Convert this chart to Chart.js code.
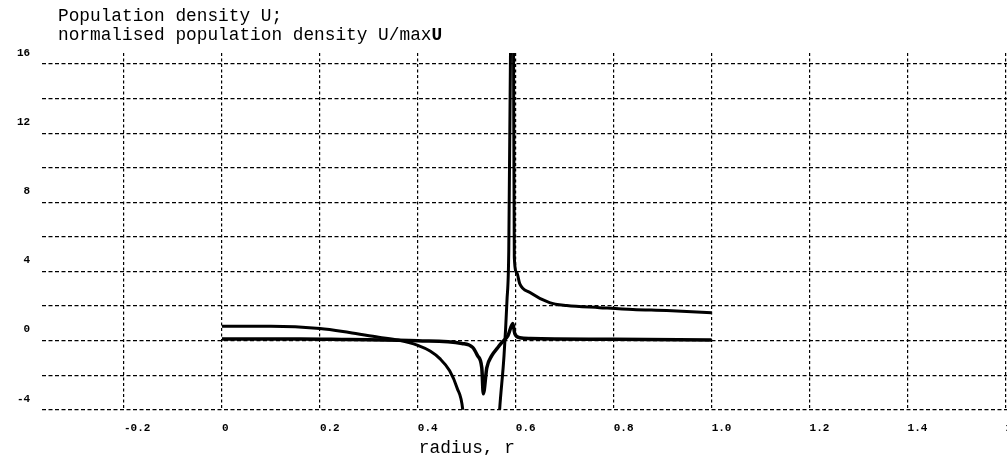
<!DOCTYPE html>
<html>
<head>
<meta charset="utf-8">
<script src="https://cdn.jsdelivr.net/npm/chart.js@4.4.1/dist/chart.umd.min.js"></script>
<style>
	html, body {
		margin: 0;
		padding: 0;
		background: #fff;
		overflow: hidden;
	}
	.wrap {
		position: relative;
		width: 1007px;
		height: 455px;
		overflow: hidden;
	}
	.heading {
		position: absolute;
		left: 58px;
		top: 7px;
		font: 17.8px/19px "Liberation Mono", monospace;
		color: #000;
		white-space: pre;
	}
	canvas {
		position: absolute;
		left: 0;
		top: 0;
	}
</style>
</head>
<body>
<div class="wrap">
	<canvas id="chart" width="1030" height="455"></canvas>
	<div class="heading">Population density U;
normalised population density U/max<b>U</b></div>
</div>
<script>
// radius values and population density U (off-chart values where the curve runs away)
const rU = [0, 0.10, 0.20, 0.26, 0.32, 0.36, 0.40, 0.425, 0.445, 0.465, 0.48, 0.492,
	0.50, 0.56, 0.567, 0.576, 0.582, 0.5857, 0.5892, 0.590, 0.595, 0.5955, 0.597,
	0.602, 0.608, 0.629, 0.669, 0.704, 0.771, 0.839, 0.908, 1.0];
const densityU = [0.83, 0.83, 0.70, 0.47, 0.20, 0.04, -0.27, -0.60, -1.04, -1.74, -2.72, -4.06,
	-7.5, -7.5, -4.0, -0.87, 2.3, 5.2, 16.6, 22, 22, 16.6, 4.8,
	3.94, 3.3, 2.78, 2.2, 2.03, 1.91, 1.80, 1.74, 1.62];

// radius values and normalised density U/maxU
const rNorm = [0, 0.16, 0.26, 0.36, 0.40, 0.49, 0.512, 0.522, 0.5306, 0.5337, 0.5408,
	0.551, 0.563, 0.573, 0.584, 0.594, 0.598, 0.608, 0.63, 0.80, 1.0];
const densityNorm = [0.10, 0.10, 0.06, 0.03, 0.0, -0.16, -0.39, -0.87, -1.57, -3.07, -1.57,
	-0.87, -0.41, -0.06, 0.29, 0.99, 0.41, 0.17, 0.12, 0.08, 0.04];

const X_MIN = -0.367;
const X_MAX = 1.65;
const Y_MIN = -4;
const Y_MAX = 16.64;
const X_TITLE = 'radius, r';
const X_TITLE_AT = 0.5;

const toPoints = (xs, ys) => xs.map((x, i) => ({ x, y: ys[i] }));

const axisTitle = {
	id: 'axisTitle',
	afterDraw(chart) {
		const { ctx, chartArea } = chart;
		const x = chart.scales.x;
		ctx.save();
		ctx.font = '17.8px "Liberation Mono"';
		ctx.fillStyle = '#000';
		ctx.textAlign = 'center';
		ctx.textBaseline = 'middle';
		ctx.fillText(X_TITLE, x.getPixelForValue(X_TITLE_AT), chartArea.bottom + 38);
		ctx.restore();
	}
};

Chart.defaults.font.family = '"Liberation Mono", monospace';
Chart.defaults.color = '#000';

const tickFont = { size: 11, weight: 'bold' };

new Chart(document.getElementById('chart').getContext('2d'), {
	type: 'line',
	data: {
		datasets: [
			{
				label: 'U',
				data: toPoints(rU, densityU),
				borderColor: '#000',
				borderWidth: 3,
				pointRadius: 0,
				fill: false,
				cubicInterpolationMode: 'monotone'
			},
			{
				label: 'U/maxU',
				data: toPoints(rNorm, densityNorm),
				borderColor: '#000',
				borderWidth: 3.5,
				pointRadius: 0,
				fill: false,
				cubicInterpolationMode: 'monotone'
			}
		]
	},
	options: {
		responsive: false,
		animation: false,
		maintainAspectRatio: false,
		layout: { padding: { left: 5, top: 53, right: 0, bottom: 18 } },
		plugins: {
			legend: { display: false },
			tooltip: { enabled: false }
		},
		scales: {
			x: {
				type: 'linear',
				min: X_MIN,
				max: X_MAX,
				border: { display: false, dash: [3, 2.5] },
				grid: { color: '#000', lineWidth: 1.2, drawTicks: true, tickLength: 10, tickColor: 'rgba(0,0,0,0)' },
				ticks: {
					stepSize: 0.2,
					includeBounds: false,
					align: 'start',
					padding: 2,
					maxRotation: 0,
					autoSkip: false,
					font: tickFont,
					callback: v => (Math.abs(v) < 1e-9 ? '0' : v.toFixed(1))
				}
			},
			y: {
				type: 'linear',
				min: Y_MIN,
				max: Y_MAX,
				border: { display: false, dash: [4, 2.5] },
				grid: { color: '#000', lineWidth: 1.2, drawTicks: false },
				ticks: {
					stepSize: 2,
					includeBounds: false,
					padding: 12,
					labelOffset: -11,
					autoSkip: false,
					font: tickFont,
					callback: v => (Math.round(v) % 4 === 0 ? String(Math.round(v)) : '')
				}
			}
		}
	},
	plugins: [axisTitle]
});
</script>
</body>
</html>
